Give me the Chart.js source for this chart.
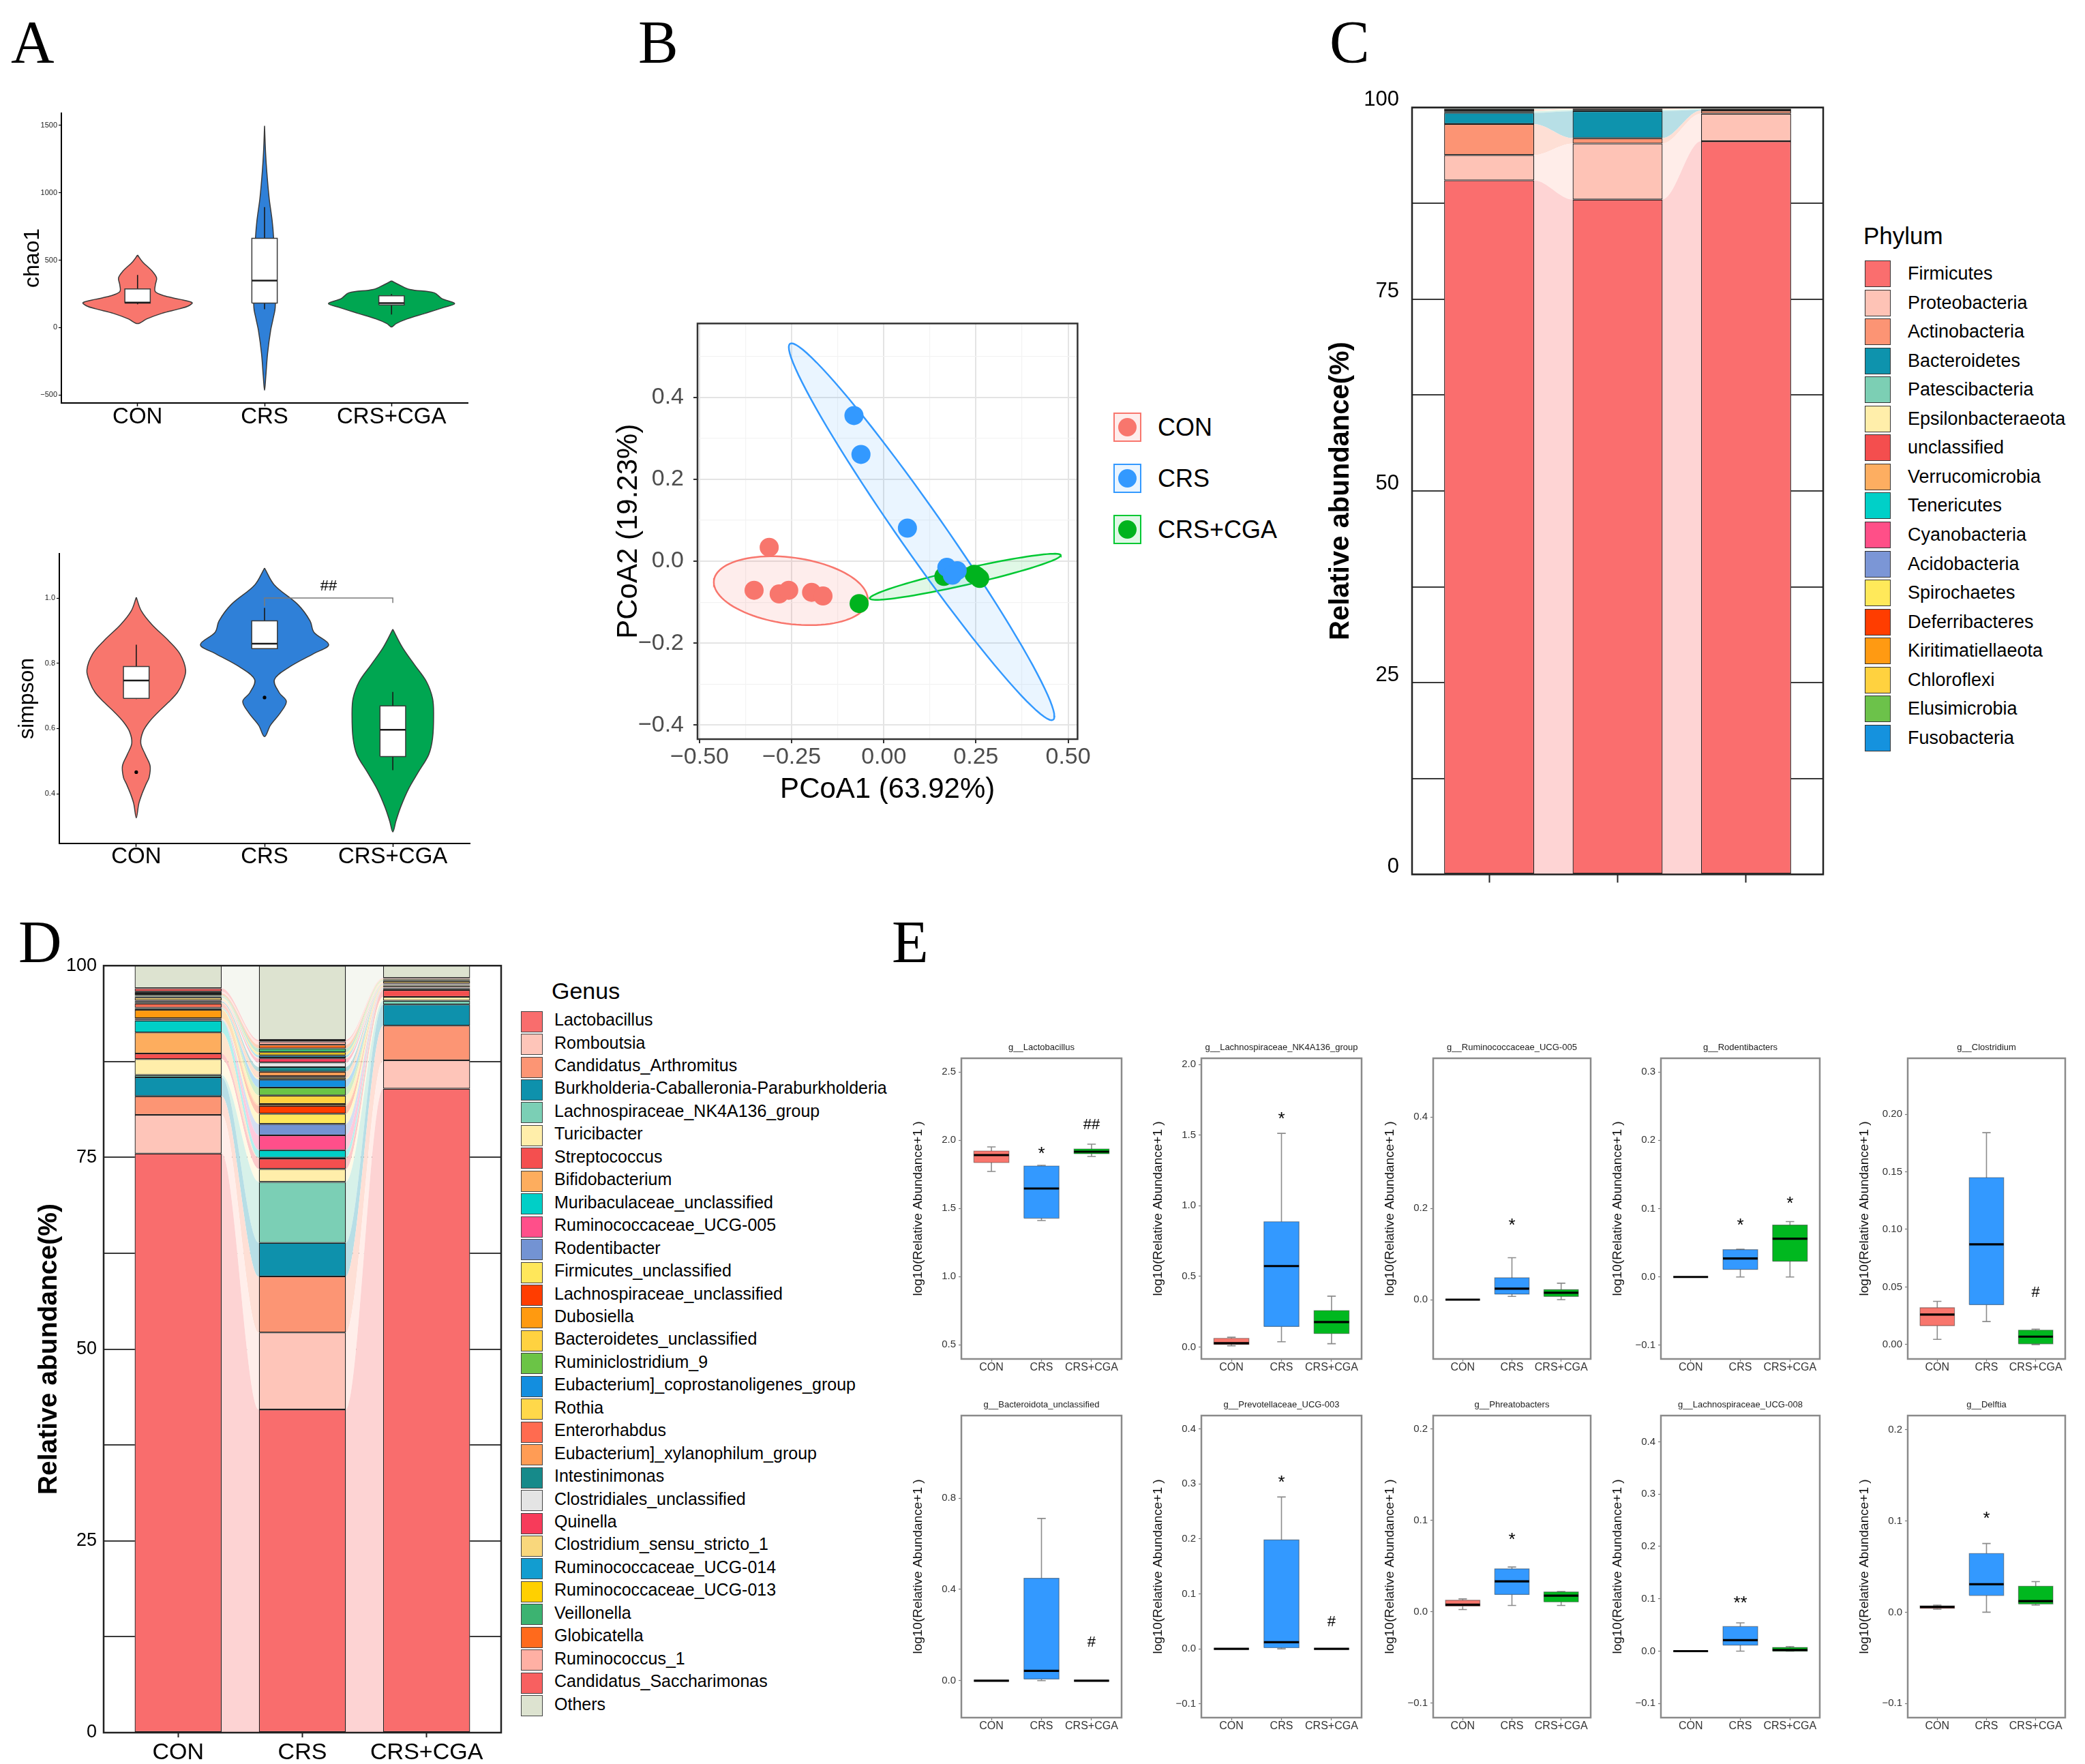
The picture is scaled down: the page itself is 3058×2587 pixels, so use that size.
<!DOCTYPE html>
<html>
<head>
<meta charset="utf-8">
<title>Gut microbiota: alpha/beta diversity, composition and differential genera</title>
<script src="https://cdn.jsdelivr.net/npm/chart.js@4.4.1/dist/chart.umd.min.js"></script>
<style>
  html, body { margin:0; padding:0; background:#ffffff; }
  body { position:relative; width:3058px; height:2587px; overflow:hidden; font-family:"Liberation Sans", Arial, Helvetica, sans-serif; color:#000; }
  canvas { position:absolute; display:block; }
  .letter { position:absolute; font-family:"Liberation Serif","Times New Roman",serif; font-size:88px; line-height:88px; color:#000; }
  .lg-text { position:absolute; white-space:nowrap; color:#000; }
  .lg-box { position:absolute; box-sizing:border-box; }
</style>
</head>
<body>
<script>
Chart.defaults.font.family = '"Liberation Sans", Arial, Helvetica, sans-serif';
Chart.defaults.color = '#000';

/* ======================= DATA ======================= */
const groups = ['CON', 'CRS', 'CRS+CGA'];

/* ---- Panel A: chao1 violins (value, half-width in category units) ---- */
const chaoTickLabels = ['\u2212500', '0', '500', '1000', '1500'];
const chaoLimits = [-560, 1591];
const chaoConY = [538, 487, 419, 368, 317, 266, 233, 210, 185, 160, 139, 105, 63, 29];
const chaoConHalfWidth = [0, 0.04, 0.115, 0.15, 0.14, 0.14, 0.22, 0.33, 0.43, 0.40, 0.33, 0.19, 0.07, 0];
const chaoCrsY = [1497, 1300, 1166, 962, 793, 657, 487, 320, 148, 63, -22, -192, -361, -467];
const chaoCrsHalfWidth = [0, 0.008, 0.017, 0.036, 0.06, 0.072, 0.08, 0.085, 0.084, 0.067, 0.048, 0.024, 0.01, 0];
const chaoCgaY = [346, 317, 283, 258, 215, 178, 148, 105, 63, 29, 4];
const chaoCgaHalfWidth = [0, 0.06, 0.144, 0.336, 0.396, 0.497, 0.408, 0.264, 0.12, 0.036, 0];
/* box stats: [lower whisker, Q1, median, Q3, upper whisker] */
const chaoBoxCon = [173, 182, 185, 287, 390];
const chaoBoxCrs = [136, 182, 348, 662, 894];
const chaoBoxCga = [97, 168, 182, 236, 249];

/* ---- Panel A: simpson violins ---- */
const simpTickLabels = ['0.4', '0.6', '0.8', '1.0'];
const simpLimits = [0.2474, 1.136];
const simpConY = [1.002, 0.96, 0.918, 0.87, 0.829, 0.779, 0.74, 0.71, 0.68, 0.65, 0.62, 0.59, 0.555, 0.52, 0.485, 0.45, 0.43, 0.40, 0.37, 0.326];
const simpConHalfWidth = [0, 0.04, 0.123, 0.25, 0.34, 0.385, 0.36, 0.32, 0.25, 0.17, 0.1, 0.052, 0.035, 0.07, 0.108, 0.1, 0.077, 0.045, 0.02, 0];
const simpCrsY = [1.092, 1.04, 0.98, 0.93, 0.895, 0.857, 0.83, 0.79, 0.75, 0.71, 0.683, 0.648, 0.61, 0.575];
const simpCrsHalfWidth = [0, 0.077, 0.26, 0.355, 0.385, 0.50, 0.385, 0.2, 0.077, 0.114, 0.17, 0.123, 0.046, 0];
const simpCgaY = [0.904, 0.847, 0.795, 0.744, 0.692, 0.64, 0.57, 0.52, 0.467, 0.415, 0.36, 0.317, 0.283];
const simpCgaHalfWidth = [0, 0.077, 0.17, 0.262, 0.31, 0.318, 0.31, 0.28, 0.2, 0.123, 0.062, 0.025, 0];
const simpBoxCon = [0.69, 0.692, 0.747, 0.79, 0.857];
const simpBoxCrs = [0.845, 0.845, 0.86, 0.93, 0.97];
const simpBoxCga = [0.472, 0.514, 0.596, 0.669, 0.712];
const simpOutliers = [[0.466], [0.695], []];
const simpBracketX = [2, 2, 3, 3];
const simpBracketY = [0.975, 1.0, 1.0, 0.985];
const simpSignif = [2.5, 1.04, '##'];

/* ---- Panel B: PCoA ---- */
const pcoaTickX = ['\u22120.50', '\u22120.25', '0.00', '0.25', '0.50'];
const pcoaTickY = ['\u22120.4', '\u22120.2', '0.0', '0.2', '0.4'];
const pcoaLimitsX = [-0.5055, 0.5256];
const pcoaLimitsY = [-0.4347, 0.581];
const pcoaConX = [-0.311, -0.352, -0.284, -0.258, -0.196, -0.165];
const pcoaConY = [0.034, -0.071, -0.080, -0.071, -0.076, -0.085];
const pcoaCrsX = [-0.081, -0.062, 0.064, 0.171, 0.199, 0.186];
const pcoaCrsY = [0.356, 0.261, 0.081, -0.015, -0.023, -0.034];
const pcoaCgaX = [-0.067, 0.163, 0.245, 0.260, 0.252];
const pcoaCgaY = [-0.1035, -0.037, -0.032, -0.042, -0.036];
/* confidence ellipses: centre, semi-major vector, semi-minor vector (data units) */
const ellipseCX = [-0.2525, 0.1025, 0.221];
const ellipseCY = [-0.072, 0.072, -0.038];
const ellipseUX = [0.2084, 0.357, 0.259];
const ellipseUY = [-0.0255, -0.4595, 0.0529];
const ellipseVX = [0.012, 0.049, 0.0048];
const ellipseVY = [0.0803, 0.031, -0.0193];

/* ---- Panel C: phylum composition (%) ---- */
const abundTickLabels = ['0', '25', '50', '75', '100'];
const phylumNames = ['Firmicutes', 'Proteobacteria', 'Actinobacteria', 'Bacteroidetes', 'Patescibacteria', 'Epsilonbacteraeota', 'unclassified', 'Verrucomicrobia', 'Tenericutes', 'Cyanobacteria', 'Acidobacteria', 'Spirochaetes', 'Deferribacteres', 'Kiritimatiellaeota', 'Chloroflexi', 'Elusimicrobia', 'Fusobacteria'];
const phylumColors = ['#FA6E6E', '#FEC3B6', '#FC9474', '#0E93AD', '#7CCFB4', '#FFEEAA', '#F44E4E', '#FDAE61', '#00D0C8', '#FF4F88', '#7B96D6', '#FFE95A', '#FF3D00', '#FF9A12', '#FFD23F', '#6CC24A', '#1592DE'];
const phylumCon = [90.5, 3.3, 4.04, 1.46, 0.2, 0.1, 0.1, 0.1, 0.05, 0.03, 0.02, 0.02, 0.02, 0.02, 0.01, 0.01, 0.01];
const phylumCrs = [88.0, 7.3, 0.7, 3.53, 0.15, 0.1, 0.05, 0.05, 0.03, 0.02, 0.02, 0.01, 0.01, 0.01, 0.01, 0.01, 0.0];
const phylumCga = [95.6, 3.6, 0.4, 0.1, 0.1, 0.05, 0.05, 0.03, 0.02, 0.02, 0.01, 0.01, 0.01, 0.0, 0.0, 0.0, 0.0];

/* ---- Panel D: genus composition (%) ---- */
const genusNames = ['Lactobacillus', 'Romboutsia', 'Candidatus_Arthromitus', 'Burkholderia-Caballeronia-Paraburkholderia', 'Lachnospiraceae_NK4A136_group', 'Turicibacter', 'Streptococcus', 'Bifidobacterium', 'Muribaculaceae_unclassified', 'Ruminococcaceae_UCG-005', 'Rodentibacter', 'Firmicutes_unclassified', 'Lachnospiraceae_unclassified', 'Dubosiella', 'Bacteroidetes_unclassified', 'Ruminiclostridium_9', 'Eubacterium]_coprostanoligenes_group', 'Rothia', 'Enterorhabdus', 'Eubacterium]_xylanophilum_group', 'Intestinimonas', 'Clostridiales_unclassified', 'Quinella', 'Clostridium_sensu_stricto_1', 'Ruminococcaceae_UCG-014', 'Ruminococcaceae_UCG-013', 'Veillonella', 'Globicatella', 'Ruminococcus_1', 'Candidatus_Saccharimonas', 'Others'];
const genusColors = ['#F96D6D', '#FEC5B9', '#FC9574', '#0E91AC', '#7BCFB5', '#FFEEAA', '#F44F4F', '#FDAD5E', '#00CFC7', '#FF4F8A', '#7393D3', '#FFE75A', '#FF3D00', '#FF9A10', '#FFD240', '#6BC446', '#138EDF', '#FFD84A', '#FF6B50', '#FF9C55', '#168A8A', '#E4E4E4', '#F73B5A', '#F9D77C', '#129DD0', '#FFD000', '#3CB371', '#FF6A1C', '#FFB0A4', '#F86060', '#DDE3D0'];
const genusCon = [75.5, 5.05, 2.43, 2.46, 0.30, 2.07, 0.74, 2.73, 1.57, 0.10, 0.05, 0.10, 0.05, 1.09, 0.08, 0.08, 0.08, 0.05, 0.54, 0.10, 0.15, 0.10, 0.05, 0.40, 0.10, 0.10, 0.10, 0.20, 0.24, 0.44, 2.97];
const genusCrs = [42.13, 10.04, 7.31, 4.38, 7.94, 1.69, 1.36, 0.12, 0.98, 1.93, 1.48, 1.33, 1.04, 0.24, 1.10, 1.04, 1.03, 0.25, 0.20, 0.59, 0.59, 0.60, 0.53, 0.12, 0.30, 0.38, 0.51, 0.47, 0.42, 0.23, 9.67];
const genusCga = [83.96, 3.70, 4.51, 2.76, 0.50, 0.50, 0.89, 0.15, 0.10, 0.05, 0.03, 0.05, 0.05, 0.10, 0.05, 0.03, 0.03, 0.04, 0.05, 0.03, 0.03, 0.03, 0.05, 0.30, 0.10, 0.10, 0.05, 0.05, 0.05, 0.05, 1.66];

/* ---- Panel E: differential genera, log10(Relative Abundance+1) ---- */
const eTitles = ['g__Lactobacillus', 'g__Lachnospiraceae_NK4A136_group', 'g__Ruminococcaceae_UCG-005', 'g__Rodentibacters', 'g__Clostridium', 'g__Bacteroidota_unclassified', 'g__Prevotellaceae_UCG-003', 'g__Phreatobacters', 'g__Lachnospiraceae_UCG-008', 'g__Delftia'];
const eTicks = [
  ['0.5', '1.0', '1.5', '2.0', '2.5'],
  ['0.0', '0.5', '1.0', '1.5', '2.0'],
  ['0.0', '0.2', '0.4'],
  ['\u22120.1', '0.0', '0.1', '0.2', '0.3'],
  ['0.00', '0.05', '0.10', '0.15', '0.20'],
  ['0.0', '0.4', '0.8'],
  ['\u22120.1', '0.0', '0.1', '0.2', '0.3', '0.4'],
  ['\u22120.1', '0.0', '0.1', '0.2'],
  ['\u22120.1', '0.0', '0.1', '0.2', '0.3', '0.4'],
  ['\u22120.1', '0.0', '0.1', '0.2']
];
const eLimits = [[0.395, 2.6], [-0.085, 2.045], [-0.13, 0.529], [-0.12, 0.32], [-0.0125, 0.2486], [-0.162, 1.162], [-0.125, 0.424], [-0.1157, 0.2147], [-0.127, 0.45], [-0.1155, 0.2155]];
/* [lower whisker, Q1, median, Q3, upper whisker] */
const eCon = [[1.77, 1.835, 1.89, 1.92, 1.95], [0.008, 0.018, 0.027, 0.061, 0.069], [0, 0, 0, 0, 0], [0, 0, 0, 0, 0], [0.0045, 0.0164, 0.026, 0.032, 0.0375], [0, 0, 0, 0, 0], [0, 0, 0, 0, 0], [0.0025, 0.0063, 0.0078, 0.0127, 0.0142], [0, 0, 0, 0, 0], [0.0033, 0.0043, 0.0058, 0.007, 0.0078]];
const eCrs = [[1.41, 1.427, 1.645, 1.81, 1.815], [0.037, 0.145, 0.573, 0.887, 1.513], [0.007, 0.012, 0.024, 0.048, 0.092], [0, 0.011, 0.027, 0.040, 0.0407], [0.020, 0.0346, 0.087, 0.145, 0.184], [0, 0.007, 0.043, 0.449, 0.711], [0, 0.002, 0.012, 0.198, 0.276], [0.007, 0.019, 0.0334, 0.047, 0.049], [0, 0.0115, 0.021, 0.047, 0.054], [0, 0.0184, 0.0306, 0.0644, 0.0753]];
const eCga = [[1.88, 1.90, 1.915, 1.935, 1.97], [0.023, 0.095, 0.176, 0.258, 0.36], [0, 0.007, 0.015, 0.022, 0.036], [0, 0.023, 0.056, 0.076, 0.081], [0, 0.0006, 0.0069, 0.0125, 0.0134], [0, 0, 0, 0, 0], [0, 0, 0, 0, 0], [0.007, 0.0109, 0.0177, 0.0218, 0.0223], [0, 0, 0.0022, 0.007, 0.0088], [0.0078, 0.009, 0.0121, 0.0285, 0.0336]];
/* significance marks: [group, y, label] */
const eMarks = [
  [[2, 1.94, '*'], [3, 2.12, '##']],
  [[2, 1.653, '*']],
  [[2, 0.174, '*']],
  [[2, 0.083, '*'], [3, 0.115, '*']],
  [[3, 0.046, '#']],
  [[3, 0.173, '#']],
  [[2, 0.312, '*'], [3, 0.0505, '#']],
  [[2, 0.0848, '*']],
  [[2, 0.102, '**']],
  [[2, 0.108, '*']]
];

/* ======================= STYLE ======================= */
const violinColors = ['#F8766D', '#2F80D8', '#00A651'];
const pcoaColors = ['#F8766D', '#3399FF', '#00B31E'];
const ellipseStroke = ['#F8766D', '#3399FF', '#00C832'];
const ellipseFill = ['rgba(248,118,109,0.13)', 'rgba(51,153,255,0.10)', 'rgba(0,200,50,0.12)'];
const boxColorsE = ['#F8766D', '#3399FF', '#00B81F'];
const FONT = '"Liberation Sans", Arial, Helvetica, sans-serif';

/* ======================= HELPERS ======================= */
const num = s => parseFloat(String(s).replace('\u2212', '-'));
const key = v => Number(v).toFixed(5);
function labeler(labels) {
  const m = new Map(labels.map(l => [key(num(l)), l]));
  return v => (m.has(key(v)) ? m.get(key(v)) : '');
}
function setTicks(values) { return s => { s.ticks = values.map(v => ({ value: v })); }; }
function pastel(hex, a) {
  const n = parseInt(hex.slice(1), 16);
  const m = c => Math.round(c * a + 255 * (1 - a));
  return 'rgb(' + m(n >> 16) + ',' + m((n >> 8) & 255) + ',' + m(n & 255) + ')';
}

const FRAMES = {}, NOTES = {};
Chart.register({
  id: 'panelFrame',
  afterDatasetsDraw(chart) {
    const f = FRAMES[chart.canvas.id]; if (!f) return;
    const a = chart.chartArea, ctx = chart.ctx;
    ctx.save(); ctx.strokeStyle = f.color; ctx.lineWidth = f.width;
    ctx.strokeRect(a.left, a.top, a.right - a.left, a.bottom - a.top);
    ctx.restore();
  }
});
Chart.register({
  id: 'sigNotes',
  afterDatasetsDraw(chart) {
    const list = NOTES[chart.canvas.id]; if (!list) return;
    const ctx = chart.ctx, xs = chart.scales.x, ys = chart.scales.y;
    ctx.save(); ctx.fillStyle = '#000'; ctx.textAlign = 'center'; ctx.textBaseline = 'alphabetic';
    for (const n of list) {
      ctx.font = n.size + 'px ' + FONT;
      const shift = n.text.charAt(0) === '*' ? 0.6 : 0.36;
      ctx.fillText(n.text, xs.getPixelForValue(n.x), ys.getPixelForValue(n.y) + shift * n.size);
    }
    ctx.restore();
  }
});

function makeCanvas(id, left, top, width, height) {
  const c = document.createElement('canvas');
  c.id = id; c.width = width; c.height = height;
  c.style.left = left + 'px'; c.style.top = top + 'px';
  c.style.width = width + 'px'; c.style.height = height + 'px';
  document.body.appendChild(c);
  return c;
}
function baseOpts(padding, scales, plugins) {
  return {
    responsive: false, maintainAspectRatio: false, animation: false, devicePixelRatio: 1, events: [],
    layout: { padding: padding },
    plugins: Object.assign({ legend: { display: false }, tooltip: { enabled: false } }, plugins || {}),
    scales: scales
  };
}
function groupAxis(o) {
  return {
    type: 'linear', min: 0.4, max: 3.6, offset: false,
    afterBuildTicks: setTicks([1, 2, 3]),
    afterFit: s => { s.height = o.height; },
    ticks: { display: o.showLabels !== false, autoSkip: false, maxRotation: 0, minRotation: 0,
      callback: v => groups[Math.round(v) - 1], font: { size: o.fontSize || 12 }, color: o.color || '#000', padding: o.padding || 0 },
    grid: { offset: false, drawOnChartArea: false, drawTicks: true, tickLength: o.tickLength, tickColor: o.tickColor || '#000', tickWidth: o.tickWidth || 1.5 },
    border: { display: !!o.border, color: '#000', width: 2 }
  };
}
function valueAxis(o) {
  return {
    type: 'linear', min: o.min, max: o.max,
    afterBuildTicks: setTicks(o.values),
    afterFit: s => { s.width = o.width; },
    ticks: { autoSkip: false, callback: labeler(o.labels), font: { size: o.fontSize }, color: o.color || '#000', padding: o.padding, labelOffset: o.labelOffset || 0 },
    grid: o.grid,
    border: o.border || { display: false },
    title: o.title
  };
}
function line(data, extra) {
  return Object.assign({ type: 'line', data: data, pointRadius: 0, fill: false, tension: 0, spanGaps: false }, extra);
}

/* violin + inner boxplot (panel A) */
const BOX_HALF_A = 0.1;
function violinSets(center, ys, hw, box, color, outliers) {
  const poly = [];
  for (let k = 0; k < ys.length; k++) poly.push({ x: center + hw[k], y: ys[k] });
  for (let k = ys.length - 2; k >= 0; k--) poly.push({ x: center - hw[k], y: ys[k] });
  const lo = box[0], q1 = box[1], med = box[2], q3 = box[3], hi = box[4];
  const L = center - BOX_HALF_A, R = center + BOX_HALF_A;
  const sets = [
    line(poly, { fill: 'shape', backgroundColor: color, borderColor: '#3a3a3a', borderWidth: 1.5, tension: 0.35, order: 4 }),
    line([{ x: center, y: hi }, { x: center, y: q3 }, { x: center, y: null }, { x: center, y: q1 }, { x: center, y: lo }], { borderColor: '#1a1a1a', borderWidth: 1.6, order: 3 }),
    line([{ x: L, y: q1 }, { x: R, y: q1 }, { x: R, y: q3 }, { x: L, y: q3 }, { x: L, y: q1 }], { fill: 'shape', backgroundColor: '#ffffff', borderColor: '#3a3a3a', borderWidth: 1.5, order: 2 }),
    line([{ x: L, y: med }, { x: R, y: med }], { borderColor: '#1a1a1a', borderWidth: 2.5, order: 1 })
  ];
  if (outliers.length) sets.push(line(outliers.map(v => ({ x: center, y: v })), { showLine: false, pointRadius: 2.6, pointBackgroundColor: '#000', pointBorderWidth: 0, order: 0 }));
  return sets;
}

/* boxplot (panel E) */
const BOX_HALF_E = 0.35, CAP_E = 0.085;
function boxSets(center, st, color) {
  const lo = st[0], q1 = st[1], med = st[2], q3 = st[3], hi = st[4];
  const L = center - BOX_HALF_E, R = center + BOX_HALF_E;
  return [
    line([{ x: center, y: hi }, { x: center, y: q3 }, { x: center, y: null }, { x: center, y: q1 }, { x: center, y: lo }], { borderColor: '#8c8c8c', borderWidth: 1.6, order: 3 }),
    line([{ x: center - CAP_E, y: hi }, { x: center + CAP_E, y: hi }, { x: center, y: null }, { x: center - CAP_E, y: lo }, { x: center + CAP_E, y: lo }], { borderColor: '#8c8c8c', borderWidth: 1.6, order: 3 }),
    line([{ x: L, y: q1 }, { x: R, y: q1 }, { x: R, y: q3 }, { x: L, y: q3 }, { x: L, y: q1 }], { fill: 'shape', backgroundColor: color, borderColor: 'rgba(40,40,40,0.45)', borderWidth: 1.2, order: 2 }),
    line([{ x: L, y: med }, { x: R, y: med }], { borderColor: '#000', borderWidth: 3.2, order: 1 })
  ];
}

/* stacked bars + alluvial flows (panels C, D) */
const BAR_HALF = 0.35;
function alluvialSets(colors, series) {
  const n = colors.length;
  const cum = series.map(arr => { let s = 0; return arr.map(v => (s += v)); });
  const flows = [], bars = [];
  for (let i = 0; i < n; i++) {
    const pts = [];
    for (let g = 0; g < 3; g++) {
      pts.push({ x: g + 1 - BAR_HALF, y: cum[g][i] }, { x: g + 1 + BAR_HALF, y: cum[g][i] });
    }
    flows.push({ type: 'line', data: pts, fill: i === 0 ? 'origin' : '-1', backgroundColor: pastel(colors[i], 0.3),
      borderWidth: 0, pointRadius: 0, cubicInterpolationMode: 'monotone', order: 5 });
    bars.push({ type: 'bar', data: [0, 1, 2].map(g => ({ x: g + 1, y: [cum[g][i] - series[g][i], cum[g][i]] })),
      backgroundColor: colors[i], borderColor: '#1e1e1e', borderWidth: 1.3, borderSkipped: false,
      grouped: false, barPercentage: 0.7, categoryPercentage: 1, order: 1 });
  }
  return flows.concat(bars);
}

/* HTML legends / letters */
function addText(txt, left, centerY, size, extraStyle) {
  const d = document.createElement('div');
  d.className = 'lg-text'; d.textContent = txt;
  const h = Math.round(size * 1.3);
  d.style.cssText += 'left:' + left + 'px;top:' + (centerY - h / 2) + 'px;height:' + h + 'px;line-height:' + h + 'px;font-size:' + size + 'px;' + (extraStyle || '');
  document.body.appendChild(d);
  return d;
}
function addBox(left, top, w, h, style) {
  const d = document.createElement('div');
  d.className = 'lg-box';
  d.style.cssText += 'left:' + left + 'px;top:' + top + 'px;width:' + w + 'px;height:' + h + 'px;' + style;
  document.body.appendChild(d);
  return d;
}
function addLetter(ch, left, top) {
  const d = document.createElement('div');
  d.className = 'letter'; d.textContent = ch;
  d.style.left = left + 'px'; d.style.top = top + 'px';
  document.body.appendChild(d);
}

/* ======================= PANEL A ======================= */
(function () {
  const id = 'alphaChao1';
  const cv = makeCanvas(id, 0, 140, 700, 490);
  const ds = [].concat(
    violinSets(1, chaoConY, chaoConHalfWidth, chaoBoxCon, violinColors[0], []),
    violinSets(2, chaoCrsY, chaoCrsHalfWidth, chaoBoxCrs, violinColors[1], []),
    violinSets(3, chaoCgaY, chaoCgaHalfWidth, chaoBoxCga, violinColors[2], []));
  new Chart(cv, { type: 'line', data: { datasets: ds }, options: baseOpts({ left: 0, top: 26, right: 14, bottom: 0 }, {
    x: groupAxis({ height: 39, fontSize: 33, tickLength: 5, tickWidth: 1.5, padding: -4, border: true }),
    y: valueAxis({ min: chaoLimits[0], max: chaoLimits[1], values: chaoTickLabels.map(num), labels: chaoTickLabels, width: 90, fontSize: 11, color: '#222', padding: 2,
      grid: { drawOnChartArea: false, drawTicks: true, tickLength: 4, tickColor: '#000', tickWidth: 1.2 },
      border: { display: true, color: '#000', width: 2 },
      title: { display: true, text: 'chao1', font: { size: 32 }, color: '#000', padding: { top: 29, bottom: 0 } } })
  }) });
})();

(function () {
  const id = 'alphaSimpson';
  const cv = makeCanvas(id, 0, 790, 700, 490);
  const ds = [].concat(
    violinSets(1, simpConY, simpConHalfWidth, simpBoxCon, violinColors[0], simpOutliers[0]),
    violinSets(2, simpCrsY, simpCrsHalfWidth, simpBoxCrs, violinColors[1], simpOutliers[1]),
    violinSets(3, simpCgaY, simpCgaHalfWidth, simpBoxCga, violinColors[2], simpOutliers[2]),
    [line(simpBracketX.map((x, i) => ({ x: x, y: simpBracketY[i] })), { borderColor: '#7a7a7a', borderWidth: 1.5, order: 0 })]);
  NOTES[id] = [{ x: simpSignif[0], y: simpSignif[1], text: simpSignif[2], size: 22 }];
  new Chart(cv, { type: 'line', data: { datasets: ds }, options: baseOpts({ left: 0, top: 22, right: 11, bottom: 0 }, {
    x: groupAxis({ height: 43, fontSize: 33, tickLength: 5, tickWidth: 1.5, padding: -5, border: true }),
    y: valueAxis({ min: simpLimits[0], max: simpLimits[1], values: simpTickLabels.map(num), labels: simpTickLabels, width: 87, fontSize: 11, color: '#222', padding: 2,
      grid: { drawOnChartArea: false, drawTicks: true, tickLength: 4, tickColor: '#000', tickWidth: 1.2 },
      border: { display: true, color: '#000', width: 2 },
      title: { display: true, text: 'simpson', font: { size: 32 }, color: '#000', padding: { top: 21, bottom: 0 } } })
  }) });
})();

/* ======================= PANEL B ======================= */
(function () {
  const id = 'pcoa';
  const cv = makeCanvas(id, 880, 440, 720, 750);
  const majorX = pcoaTickX.map(num), majorY = pcoaTickY.map(num);
  function gridValues(major, lo, hi) {
    const step = major[1] - major[0], vals = [];
    for (let k = -2; k <= (major.length - 1) * 2 + 2; k++) {
      const v = +(major[0] + k * step / 2).toFixed(6);
      if (v >= lo - 1e-9 && v <= hi + 1e-9) vals.push(v);
    }
    return vals;
  }
  const isMajor = (major, v) => major.some(m => Math.abs(m - v) < 1e-6);
  const gridFor = major => ({
    drawOnChartArea: true, drawTicks: true, tickLength: 6, tickWidth: 2,
    color: c => (c.tick && isMajor(major, c.tick.value) ? '#E4E4E4' : '#F3F3F3'),
    lineWidth: c => (c.tick && isMajor(major, c.tick.value) ? 2 : 1.2),
    tickColor: c => (c.tick && isMajor(major, c.tick.value) ? '#333333' : 'rgba(0,0,0,0)')
  });
  const ds = [];
  for (let g = 0; g < 3; g++) {
    const pts = [];
    for (let i = 0; i <= 96; i++) {
      const t = i / 96 * 2 * Math.PI;
      pts.push({ x: ellipseCX[g] + ellipseUX[g] * Math.cos(t) + ellipseVX[g] * Math.sin(t),
                 y: ellipseCY[g] + ellipseUY[g] * Math.cos(t) + ellipseVY[g] * Math.sin(t) });
    }
    ds.push(line(pts, { fill: 'shape', backgroundColor: ellipseFill[g], borderColor: ellipseStroke[g], borderWidth: 2.5, order: 3 }));
  }
  const px = [pcoaConX, pcoaCrsX, pcoaCgaX], py = [pcoaConY, pcoaCrsY, pcoaCgaY];
  for (let g = 0; g < 3; g++) {
    ds.push(line(px[g].map((x, i) => ({ x: x, y: py[g][i] })), { showLine: false, pointRadius: 14, pointBackgroundColor: pcoaColors[g], pointBorderColor: pcoaColors[g], pointBorderWidth: 0, order: 1 }));
  }
  FRAMES[id] = { color: '#333333', width: 2.5 };
  new Chart(cv, { type: 'line', data: { datasets: ds }, options: baseOpts({ left: 0, top: 29, right: 13, bottom: 0 }, {
    x: { type: 'linear', min: pcoaLimitsX[0], max: pcoaLimitsX[1],
      afterBuildTicks: setTicks(gridValues(majorX, pcoaLimitsX[0], pcoaLimitsX[1])),
      afterFit: s => { s.height = 106; },
      ticks: { autoSkip: false, maxRotation: 0, callback: labeler(pcoaTickX), font: { size: 34 }, color: '#4D4D4D', padding: 0 },
      grid: gridFor(majorX), border: { display: false },
      title: { display: true, text: 'PCoA1 (63.92%)', font: { size: 42 }, color: '#000', padding: { top: 0, bottom: 6 } } },
    y: { type: 'linear', min: pcoaLimitsY[0], max: pcoaLimitsY[1],
      afterBuildTicks: setTicks(gridValues(majorY, pcoaLimitsY[0], pcoaLimitsY[1])),
      afterFit: s => { s.width = 143; },
      ticks: { autoSkip: false, callback: labeler(pcoaTickY), font: { size: 34 }, color: '#4D4D4D', padding: 14 },
      grid: gridFor(majorY), border: { display: false },
      title: { display: true, text: 'PCoA2 (19.23%)', font: { size: 42 }, color: '#000', padding: { top: 17, bottom: 0 } } }
  }) });
  const boxTops = [605, 680, 755];
  for (let g = 0; g < 3; g++) {
    addBox(1633, boxTops[g], 41, 43, 'border:2px solid ' + ellipseStroke[g] + ';background:' + ellipseFill[g] + ';');
    addBox(1640, boxTops[g] + 8, 27, 27, 'border-radius:50%;background:' + pcoaColors[g] + ';');
    addText(groups[g], 1698, boxTops[g] + 21.5, 36);
  }
})();

/* ======================= PANEL C ======================= */
const abundGrid = [0, 1, 2, 3, 4, 5, 6, 7, 8].map(k => k * 12.5);
(function () {
  const id = 'phylumBar';
  const cv = makeCanvas(id, 1940, 120, 750, 1200);
  FRAMES[id] = { color: '#222222', width: 2.5 };
  new Chart(cv, { type: 'bar', data: { datasets: alluvialSets(phylumColors, [phylumCon, phylumCrs, phylumCga]) },
    options: baseOpts({ left: 0, top: 32, right: 16, bottom: 0 }, {
      x: groupAxis({ height: 32, showLabels: false, tickLength: 12, tickColor: '#222', tickWidth: 2 }),
      y: valueAxis({ min: 0, max: 100, values: abundGrid, labels: abundTickLabels, width: 131, fontSize: 31, color: '#000', padding: 19, labelOffset: -11,
        grid: { drawOnChartArea: true, drawTicks: false, color: '#3a3a3a', lineWidth: 2 },
        title: { display: true, text: 'Relative abundance(%)', font: { size: 40, weight: 'bold' }, color: '#000', padding: { top: 3, bottom: 0 } } })
    }) });
  addText('Phylum', 2733, 346, 35);
  for (let i = 0; i < phylumNames.length; i++) {
    const top = 382 + i * 42.56;
    addBox(2735, top, 38, 39, 'border:1.5px solid #333;background:' + phylumColors[i] + ';');
    addText(phylumNames[i], 2798, top + 19.5, 27);
  }
})();

/* ======================= PANEL D ======================= */
(function () {
  const id = 'genusBar';
  const cv = makeCanvas(id, 20, 1390, 730, 1197);
  FRAMES[id] = { color: '#222222', width: 2.5 };
  new Chart(cv, { type: 'bar', data: { datasets: alluvialSets(genusColors, [genusCon, genusCrs, genusCga]) },
    options: baseOpts({ left: 0, top: 23, right: 15, bottom: 0 }, {
      x: groupAxis({ height: 46, fontSize: 34, tickLength: 7, tickColor: '#222', tickWidth: 2, padding: 2 }),
      y: valueAxis({ min: 0, max: 100, values: abundGrid, labels: abundTickLabels, width: 132, fontSize: 27, color: '#000', padding: 10,
        grid: { drawOnChartArea: true, drawTicks: false, color: '#3a3a3a', lineWidth: 2 },
        title: { display: true, text: 'Relative abundance(%)', font: { size: 39, weight: 'bold' }, color: '#000', padding: { top: 29, bottom: 0 } } })
    }) });
  addText('Genus', 809, 1453, 34);
  for (let i = 0; i < genusNames.length; i++) {
    const top = 1482.6 + i * 33.45;
    addBox(764, top, 32, 31, 'border:1.5px solid #444;background:' + genusColors[i] + ';');
    addText(genusNames[i], 813, top + 13, 25);
  }
})();

/* ======================= PANEL E ======================= */
const eLeft = [1410, 1762, 2102, 2436, 2798], eRight = [1645, 1997, 2333, 2669, 3029];
const eTop = [1552, 2076], eBottom = [1993, 2519];
for (let i = 0; i < eTitles.length; i++) {
  const col = i % 5, row = Math.floor(i / 5);
  const L = eLeft[col], R = eRight[col], T = eTop[row], B = eBottom[row];
  const id = 'diffGenus' + i;
  const cv = makeCanvas(id, L - 80, T - 40, R + 6 - (L - 80), B + 30 - (T - 40));
  const ds = [].concat(boxSets(1, eCon[i], boxColorsE[0]), boxSets(2, eCrs[i], boxColorsE[1]), boxSets(3, eCga[i], boxColorsE[2]));
  FRAMES[id] = { color: '#8a8a8a', width: 2.5 };
  NOTES[id] = eMarks[i].map(m => ({ x: m[0], y: m[1], text: m[2], size: m[2].charAt(0) === '*' ? 26 : 22 }));
  new Chart(cv, { type: 'line', data: { datasets: ds }, options: baseOpts({ left: 0, top: 0, right: 6, bottom: 0 }, {
    x: groupAxis({ height: 30, fontSize: 16, color: '#333', tickLength: 4, tickColor: '#777', tickWidth: 1.2, padding: -1 }),
    y: valueAxis({ min: eLimits[i][0], max: eLimits[i][1], values: eTicks[i].map(num), labels: eTicks[i], width: 80, fontSize: 15, color: '#333', padding: 4,
      grid: { drawOnChartArea: false, drawTicks: true, tickLength: 4, tickColor: '#777', tickWidth: 1.2 },
      border: { display: false },
      title: { display: true, text: 'log10(Relative Abundance+1 )', font: { size: 19 }, color: '#111', padding: { top: 5.6, bottom: 0 } } })
  }, { title: { display: true, text: eTitles[i], fullSize: false, font: { size: 13, weight: 'normal' }, color: '#222', padding: { top: 16.2, bottom: 8.2 } } }) });
}

/* ======================= PANEL LETTERS ======================= */
addLetter('A', 16, 18);
addLetter('B', 936, 18);
addLetter('C', 1950, 18);
addLetter('D', 27, 1338);
addLetter('E', 1308, 1338);
</script>
</body>
</html>
